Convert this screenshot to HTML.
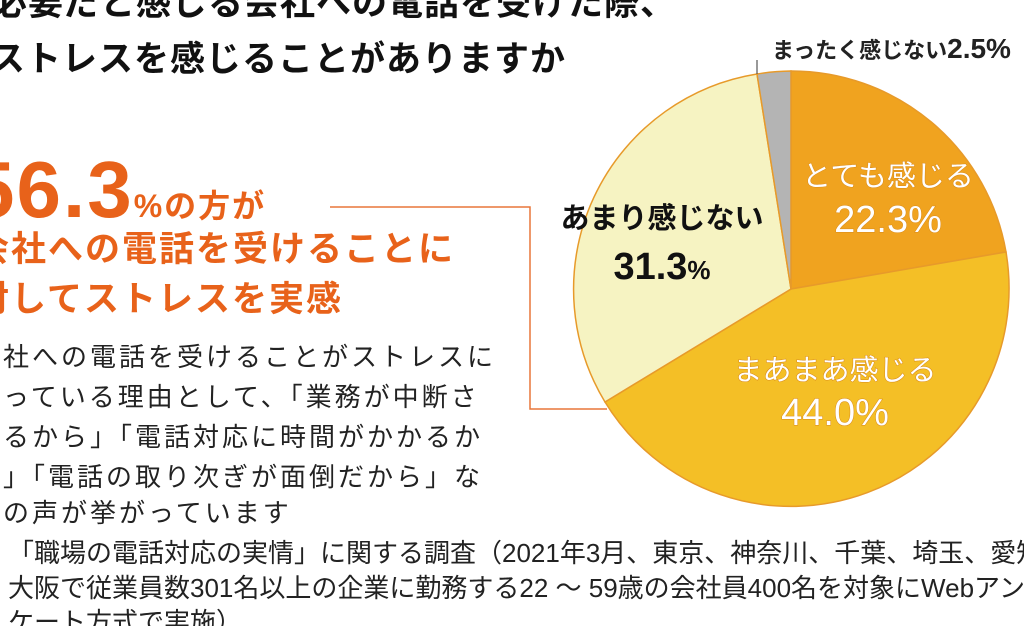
<!DOCTYPE html>
<html><head><meta charset="utf-8">
<style>
html,body{margin:0;padding:0;width:1024px;height:626px;overflow:hidden;background:#fff;}
body{position:relative;font-family:"Liberation Sans","Noto Sans CJK JP",sans-serif;}
.t{position:absolute;white-space:nowrap;line-height:1;}
.title{font-weight:bold;font-size:35px;color:#111;letter-spacing:1px;}
.or{color:#e8621a;font-weight:bold;}
.body{font-size:26px;color:#222;letter-spacing:3px;}
.foot{font-size:26px;color:#222;transform:scaleX(1.0);transform-origin:left;}
</style></head><body>
<div class="t title" style="left:-8px;top:-14px;">必要だと感じる会社への電話を受けた際、</div>
<div class="t title" style="left:-10px;top:42px;">ストレスを感じることがありますか</div>

<div class="t or" style="left:-30px;top:150px;font-size:80px;letter-spacing:2px;">56.3<span style="font-size:32px;">%の方が</span></div>
<div class="t or" style="left:-26px;top:232px;font-size:35px;letter-spacing:2px;">会社への電話を受けることに</div>
<div class="t or" style="left:-26px;top:282px;font-size:35px;letter-spacing:2px;">対してストレスを実感</div>

<div class="t body" style="left:-26px;top:344px;">会社への電話を受けることがストレスに</div>
<div class="t body" style="left:-26px;top:384px;">なっている理由として、「業務が中断さ</div>
<div class="t body" style="left:-26px;top:424px;">れるから」「電話対応に時間がかかるか</div>
<div class="t body" style="left:-26px;top:464px;">ら」「電話の取り次ぎが面倒だから」な</div>
<div class="t body" style="left:-26px;top:500px;">どの声が挙がっています</div>

<div class="t foot" style="left:8px;top:540px;">「職場の電話対応の実情」に関する調査（2021年3月、東京、神奈川、千葉、埼玉、愛知、</div>
<div class="t foot" style="left:8px;top:575px;">大阪で従業員数301名以上の企業に勤務する22 ～ 59歳の会社員400名を対象にWebアン</div>
<div class="t foot" style="left:8px;top:609px;">ケート方式で実施）</div>

<svg width="1024" height="626" style="position:absolute;left:0;top:0;" xmlns="http://www.w3.org/2000/svg">
<polyline points="330,207 530,207 530,409 607,409" fill="none" stroke="#e8763a" stroke-width="1.5"/>
<g stroke="#e79a2a" stroke-width="1.5">
<path d="M791,289 L791,71 A218,218 0 0,1 1006,252 Z" fill="#f0a31f"/>
<path d="M791,289 L1006,252 A218,218 0 0,1 605,402 Z" fill="#f4bf26"/>
<path d="M791,289 L605,402 A218,218 0 0,1 757,74 Z" fill="#f6f3c2"/>
<path d="M791,289 L757,74 A218,218 0 0,1 791,71 Z" fill="#b4b4b4"/>
</g>
<line x1="757" y1="74" x2="757" y2="60" stroke="#555" stroke-width="1.2"/>
<g font-family="Liberation Sans, Noto Sans CJK JP, sans-serif" text-anchor="middle">
<text x="662" y="228" font-size="29" font-weight="bold" fill="#111">あまり感じない</text>
<text x="662" y="279" font-size="38" font-weight="bold" fill="#111">31.3<tspan font-size="26">%</tspan></text>
<g fill="#fff" stroke="#d98a1a" stroke-width="1" paint-order="stroke">
<text x="888" y="186" font-size="29">とても感じる</text>
<text x="888" y="232" font-size="38">22.3%</text>
<text x="835" y="380" font-size="29">まあまあ感じる</text>
<text x="835" y="425" font-size="38">44.0%</text>
</g>
<text x="772" y="58" font-size="22" font-weight="bold" fill="#222" text-anchor="start">まったく感じない<tspan font-size="28">2.5%</tspan></text>
</g>
</svg>
</body></html>
